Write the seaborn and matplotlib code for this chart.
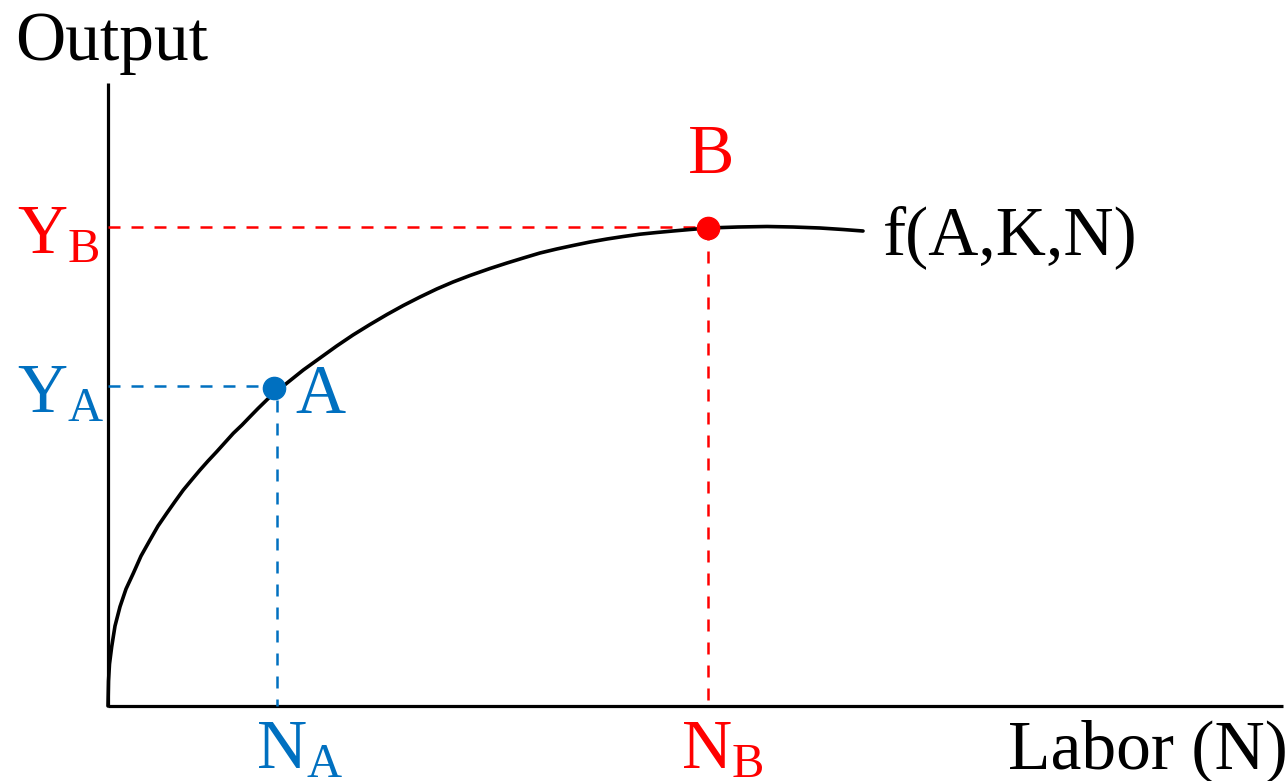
import matplotlib
matplotlib.use('Agg')
import matplotlib.pyplot as plt
import seaborn as sns
import pandas as pd

sns.set_style('white')
plt.rcParams['font.family'] = ['Liberation Serif', 'DejaVu Serif']
plt.rcParams['text.color'] = 'black'
plt.rcParams['mathtext.fontset'] = 'custom'
plt.rcParams['mathtext.rm'] = 'Liberation Serif'
plt.rcParams['mathtext.it'] = 'Liberation Serif'

# production function f(A,K,N)
labor = [0, 0.005, 0.015, 0.037, 0.07, 0.12, 0.18, 0.253, 0.33, 0.42, 0.5, 0.587,
         0.67, 0.753, 0.84, 0.92, 1.0, 1.087, 1.17, 1.253, 1.34, 1.42, 1.5, 1.587,
         1.66, 1.753, 1.953, 2.12, 2.287, 2.45, 2.62, 2.79, 2.953, 3.12, 3.287, 3.45,
         3.62, 3.82, 3.99, 4.153, 4.32, 4.487, 4.65, 4.82, 4.99, 5.153, 5.32, 5.487,
         5.65, 5.82, 6.0, 6.3, 6.59, 6.85, 7.12, 7.35, 7.55]
output = [0, 0.25, 0.42, 0.593, 0.80, 0.993, 1.17, 1.327, 1.50, 1.66, 1.80, 1.927,
          2.045, 2.16, 2.265, 2.36, 2.45, 2.543, 2.635, 2.727, 2.81, 2.893, 2.975, 3.06,
          3.13, 3.20, 3.36, 3.48, 3.60, 3.71, 3.815, 3.915, 4.005, 4.09, 4.17, 4.24,
          4.305, 4.375, 4.43, 4.48, 4.53, 4.57, 4.605, 4.64, 4.67, 4.695, 4.718, 4.735,
          4.75, 4.765, 4.78, 4.79, 4.795, 4.79, 4.78, 4.765, 4.75]

point_a = (1.66, 3.18)
point_b = (6.0, 4.78)

blue = '#0070C0'
red = '#FF0000'

fig = plt.figure(figsize=(12.87, 7.81), dpi=100)
ax = fig.add_axes([0, 0, 1, 1])
ax.set_xlim(-1.08, 11.79)
ax.set_ylim(-0.75, 7.06)
ax.axis('off')

# axes
ax.plot([0, 11.75], [0, 0], color='black', lw=2.3, solid_capstyle='butt')
ax.plot([0, 0], [0, 6.23], color='black', lw=2.3, solid_capstyle='butt')

# dashed guides
dash = (4.8, 4.4)
ax.plot([0, point_a[0]], [point_a[1] + 0.02, point_a[1] + 0.02], color=blue, lw=1.8, dashes=dash)
ax.plot([point_a[0] + 0.03, point_a[0] + 0.03], [point_a[1] - 0.12, 0], color=blue, lw=1.8, dashes=dash)
ax.plot([0, point_b[0]], [point_b[1] + 0.01, point_b[1] + 0.01], color=red, lw=1.8, dashes=dash)
ax.plot([point_b[0], point_b[0]], [point_b[1], 0], color=red, lw=1.8, dashes=dash)

df = pd.DataFrame({'labor': labor, 'output': output})
sns.lineplot(data=df, x='labor', y='output', ax=ax, color='black', lw=2.6, sort=False)

ax.plot(*point_a, 'o', color=blue, ms=16, zorder=5)
ax.plot(*point_b, 'o', color=red, ms=16, zorder=5)

fs = 50
ax.text(-0.93, 6.46, 'Output', fontsize=fs, ha='left', va='baseline')
ax.text(9.0, -0.62, 'Labor (N)', fontsize=fs, ha='left', va='baseline')
ax.text(7.75, 4.52, 'f(A,K,N)', fontsize=fs, ha='left', va='baseline')
ax.text(1.87, 2.93, 'A', fontsize=fs, color=blue, ha='left', va='baseline')
ax.text(6.03, 5.33, 'B', fontsize=fs, color=red, ha='center', va='baseline')
ax.text(-0.91, 4.53, r'$\mathrm{Y_B}$', fontsize=fs, color=red, ha='left', va='baseline')
ax.text(-0.91, 2.94, r'$\mathrm{Y_A}$', fontsize=fs, color=blue, ha='left', va='baseline')
ax.text(1.48, -0.62, r'$\mathrm{N_A}$', fontsize=fs, color=blue, ha='left', va='baseline')
ax.text(5.73, -0.62, r'$\mathrm{N_B}$', fontsize=fs, color=red, ha='left', va='baseline')

fig.savefig('out.png', dpi=100)
